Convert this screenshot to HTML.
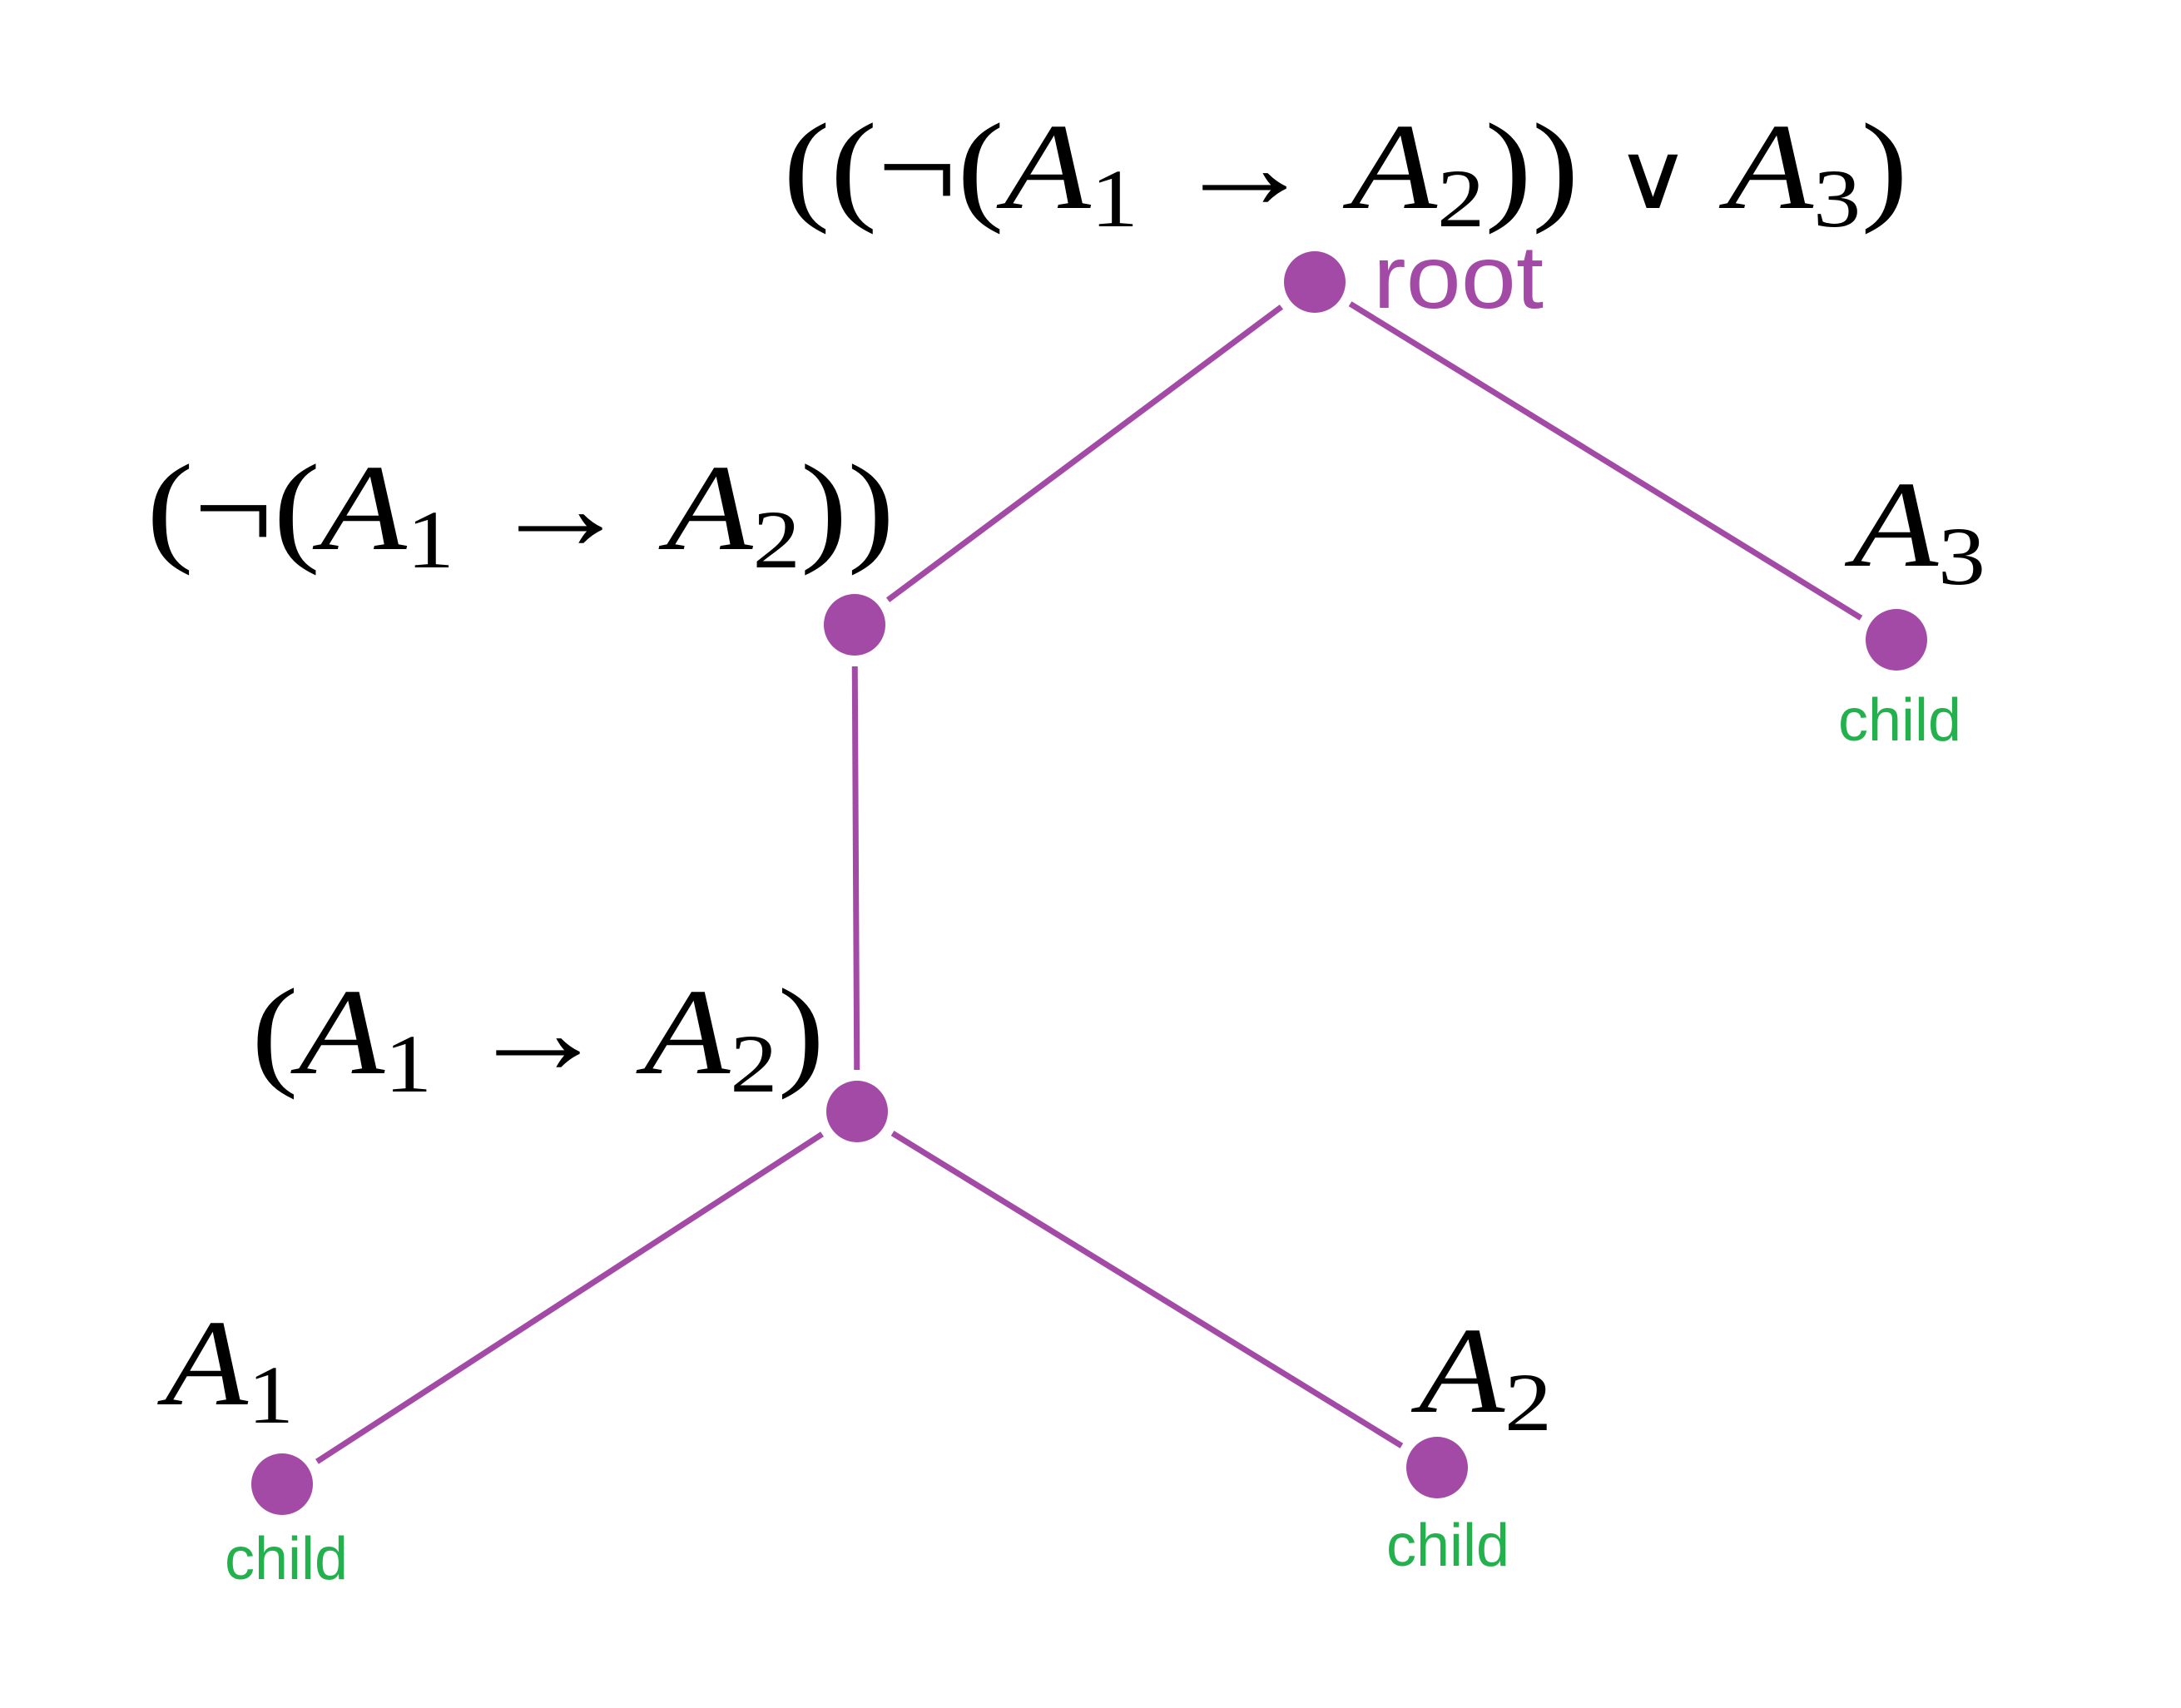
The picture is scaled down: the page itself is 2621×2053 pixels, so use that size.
<!DOCTYPE html>
<html><head><meta charset="utf-8"><style>
html,body{margin:0;padding:0;background:#fff;}
svg{display:block;}
.m{font-family:"Liberation Serif",serif;font-style:italic;fill:#000;}
.r{font-style:normal;}
.lbl{font-family:"Liberation Sans",sans-serif;}
</style></head><body>
<svg id="chart" width="2621" height="2053" viewBox="0 0 2621 2053" xmlns="http://www.w3.org/2000/svg">
<rect width="2621" height="2053" fill="#fff"/>
<g id="edges"></g>
<g id="nodes"></g>

<text class="m" x="941" y="250" font-size="148" textLength="1352" lengthAdjust="spacingAndGlyphs"><tspan class="r">((¬(</tspan>A<tspan class="r" font-size="100" dy="22">1</tspan><tspan class="r" dy="-22"> → </tspan>A<tspan class="r" font-size="100" dy="22">2</tspan><tspan class="r" dy="-22">)) </tspan><tspan class="r" font-family="DejaVu Serif" font-weight="normal" font-size="110">∨</tspan><tspan class="r"> </tspan>A<tspan class="r" font-size="100" dy="22">3</tspan><tspan class="r" dy="-22">)</tspan></text>

<text class="m" x="176" y="660" font-size="148" textLength="899" lengthAdjust="spacingAndGlyphs"><tspan class="r">(¬(</tspan>A<tspan class="r" font-size="100" dy="22">1</tspan><tspan class="r" dy="-22"> → </tspan>A<tspan class="r" font-size="100" dy="22">2</tspan><tspan class="r" dy="-22">))</tspan></text>

<text class="m" x="302" y="1290" font-size="148" textLength="689" lengthAdjust="spacingAndGlyphs"><tspan class="r">(</tspan>A<tspan class="r" font-size="100" dy="22">1</tspan><tspan class="r" dy="-22"> → </tspan>A<tspan class="r" font-size="100" dy="22">2</tspan><tspan class="r" dy="-22">)</tspan></text>

<text class="m" x="2226" y="680" font-size="148" textLength="160" lengthAdjust="spacingAndGlyphs">A<tspan class="r" font-size="100" dy="22">3</tspan></text>
<text class="m" x="198" y="1688" font-size="148" textLength="155" lengthAdjust="spacingAndGlyphs">A<tspan class="r" font-size="100" dy="22">1</tspan></text>
<text class="m" x="1705" y="1697" font-size="148" textLength="160" lengthAdjust="spacingAndGlyphs">A<tspan class="r" font-size="100" dy="22">2</tspan></text>

<text class="lbl" x="1650" y="370" font-size="108" fill="#a24aa6" textLength="205" lengthAdjust="spacingAndGlyphs">root</text>
<text class="lbl" x="2283" y="890" font-size="72" fill="#22b14c" text-anchor="middle">child</text>
<text class="lbl" x="344" y="1898" font-size="72" fill="#22b14c" text-anchor="middle">child</text>
<text class="lbl" x="1740" y="1882" font-size="72" fill="#22b14c" text-anchor="middle">child</text>
</svg>
<script>
const nodeNames = ["root","negation","a3","implication","a1","a2"];
const nodeX = [1580,1027,2279,1030,339,1727];
const nodeY = [339,751,769,1336,1784,1764];
const edgeFrom = [0,0,1,3,3];
const edgeTo = [1,2,3,4,5];
const NS = "http://www.w3.org/2000/svg";
const eg = document.getElementById('edges');
const ng = document.getElementById('nodes');
const gap = 50;
for (let i = 0; i < edgeFrom.length; i++) {
  const a = edgeFrom[i], b = edgeTo[i];
  const dx = nodeX[b]-nodeX[a], dy = nodeY[b]-nodeY[a];
  const L = Math.hypot(dx, dy), ux = dx/L, uy = dy/L;
  const ln = document.createElementNS(NS, 'line');
  ln.setAttribute('x1', nodeX[a]+ux*gap);
  ln.setAttribute('y1', nodeY[a]+uy*gap);
  ln.setAttribute('x2', nodeX[b]-ux*gap);
  ln.setAttribute('y2', nodeY[b]-uy*gap);
  ln.setAttribute('stroke', '#a24aa6');
  ln.setAttribute('stroke-width', '7');
  
  
  eg.appendChild(ln);
}
for (let i = 0; i < nodeNames.length; i++) {
  const c = document.createElementNS(NS, 'circle');
  c.setAttribute('cx', nodeX[i]);
  c.setAttribute('cy', nodeY[i]);
  c.setAttribute('r', 37);
  c.setAttribute('fill', '#a24aa6');
  
  
  ng.appendChild(c);
}
</script>
</body></html>
